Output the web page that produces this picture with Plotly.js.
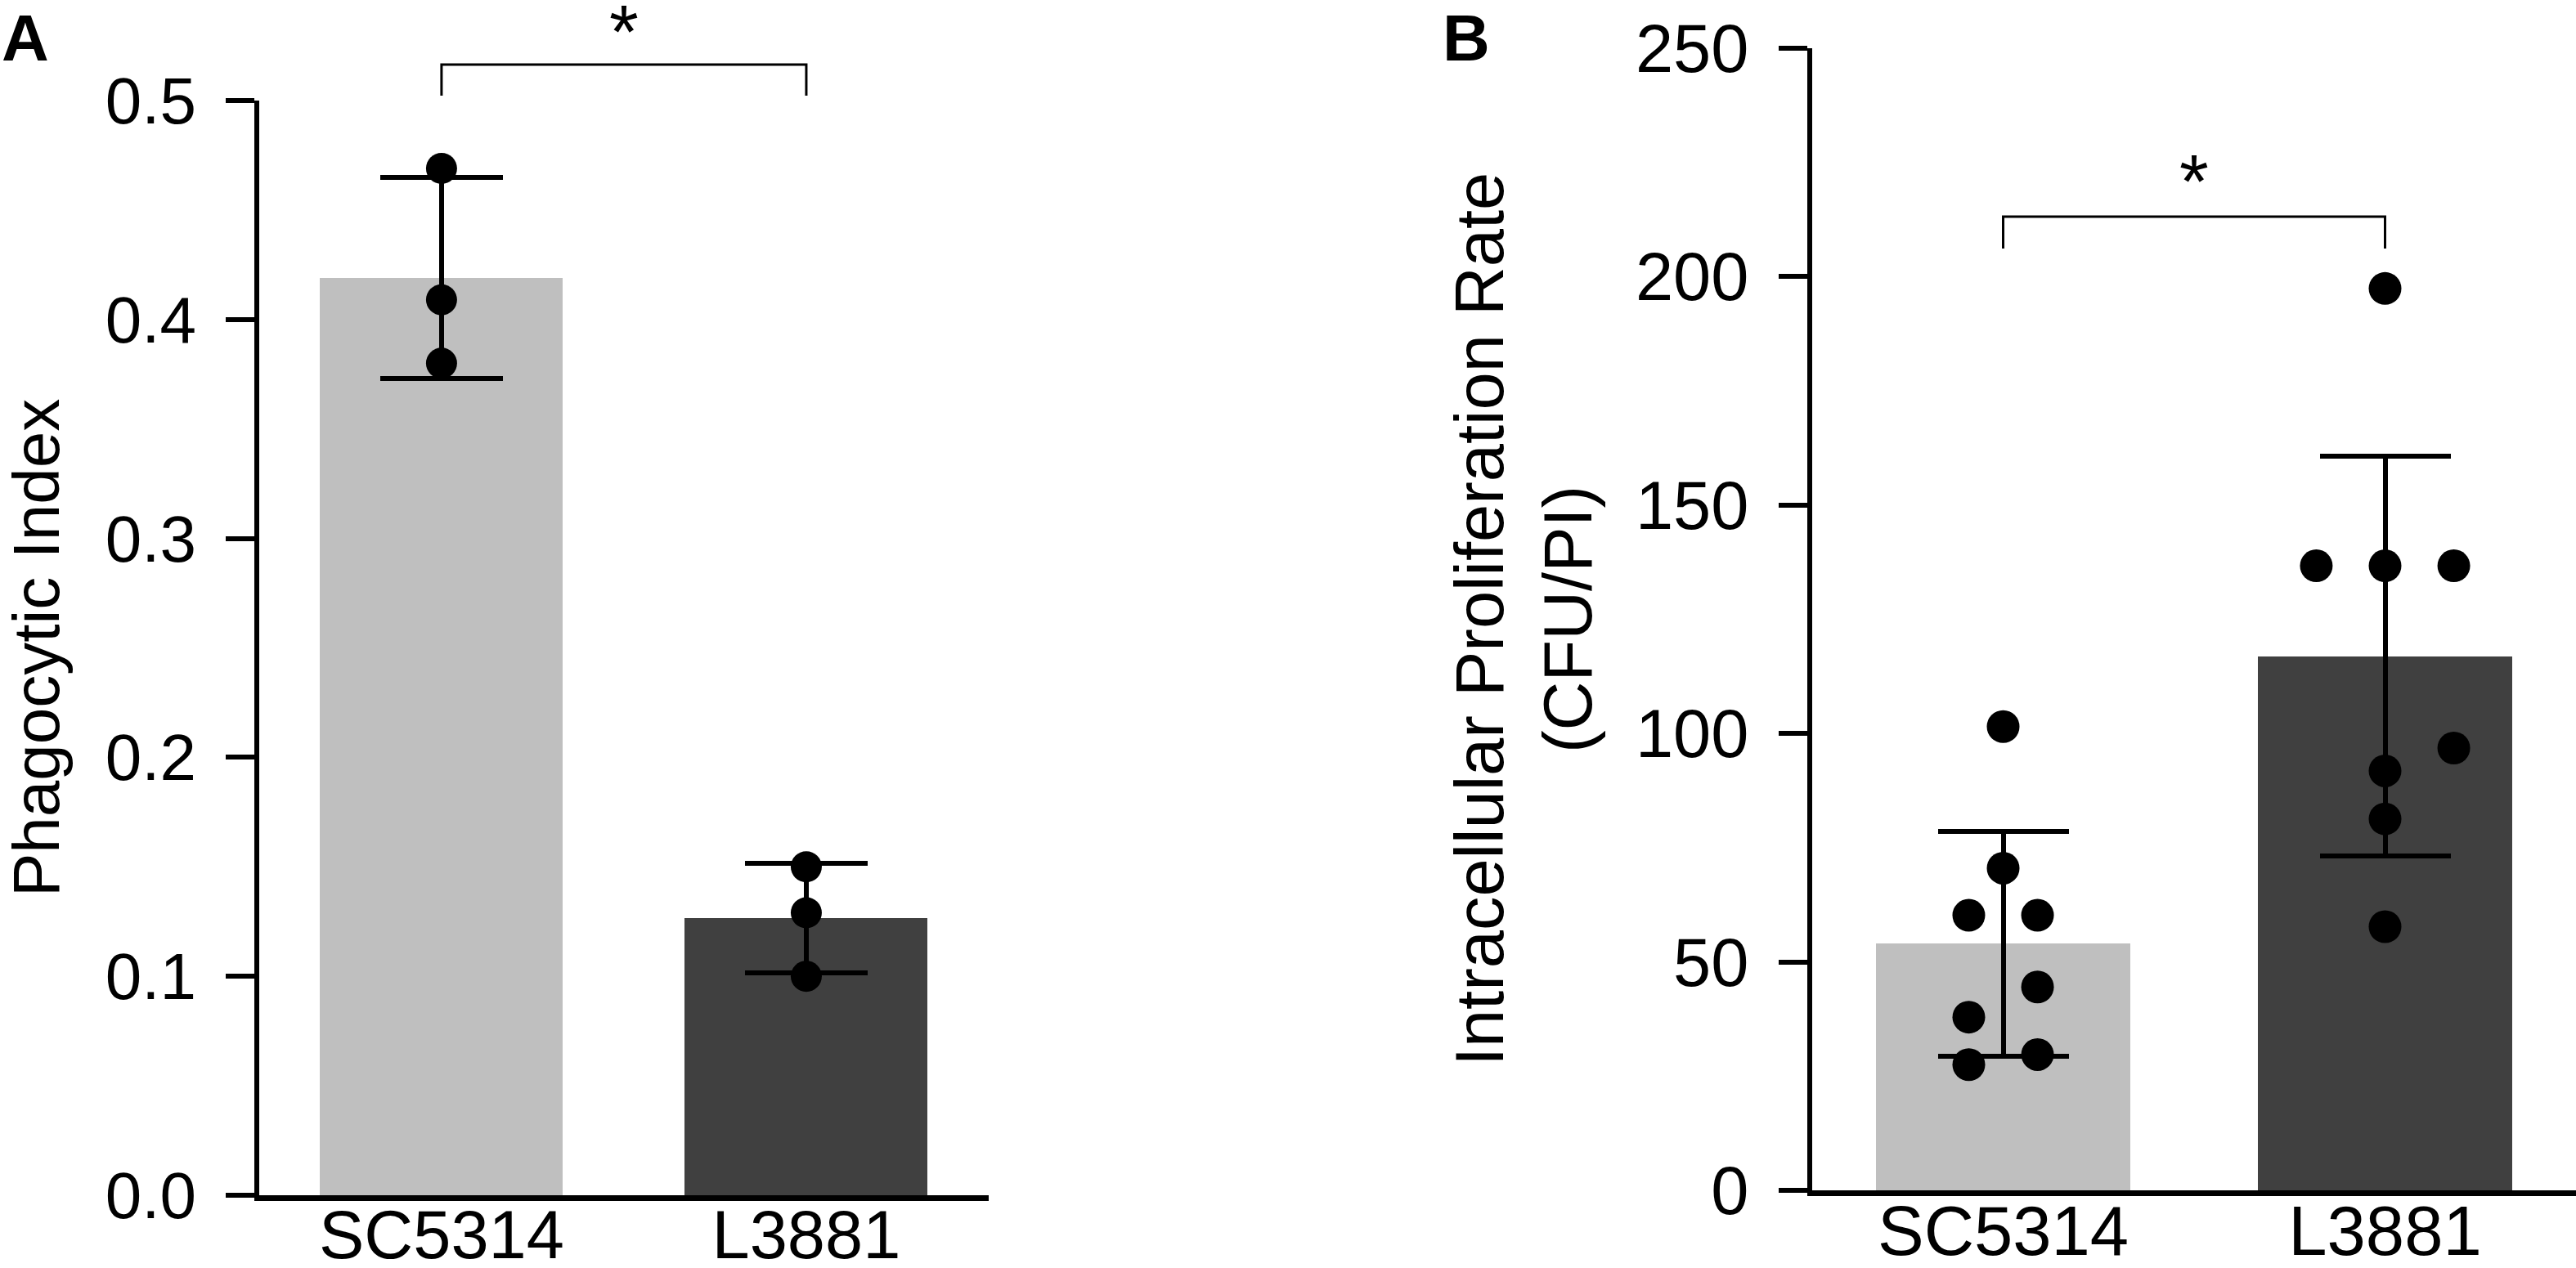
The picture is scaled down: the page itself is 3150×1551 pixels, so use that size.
<!DOCTYPE html>
<html>
<head>
<meta charset="utf-8">
<script src="https://cdn.plot.ly/plotly-3.0.1.min.js"></script>
<style>
body { margin: 0; background: #fff; }
#chart { width: 3150px; height: 1551px; }
</style>
</head>
<body>
<div id="chart"></div>
<script>
var strains = ['SC5314', 'L3881'];
var barColors = ['#bfbfbf', '#404040'];

// A: phagocytic index (mean, SD and the three replicates)
var phagoMean = [0.419, 0.1265];
var phagoSD = [0.046, 0.025];
var phagoSC = [0.469, 0.409, 0.380];
var phagoL = [0.150, 0.129, 0.100];

// B: intracellular proliferation rate (CFU/PI)
var iprMean = [54.0, 116.9];
var iprSD = [24.6, 43.7];
var iprSC = [101.5, 70.5, 60.2, 60.2, 44.5, 37.9, 29.7, 27.5];
var iprL = [197.4, 136.7, 136.7, 136.7, 96.8, 91.8, 81.3, 57.7];
// column of each dot inside its group: -1 left, 0 middle, 1 right
var iprSCcol = [0, 0, -1, 1, 1, -1, 1, -1];
var iprLcol = [0, -1, 0, 1, 1, 0, 0, 0];

var FONT = 'Arial, "Liberation Sans", sans-serif';
var xRange = [-0.5, 1.5];

function catFrac(i) {
    return (i - xRange[0]) / (xRange[1] - xRange[0]);
}

function barTrace(means, sds, xa, ya, capw) {
    return {
	type: 'bar',
	x: [0, 1],
	y: means,
	width: 0.666,
	marker: {color: barColors, line: {width: 0}},
	error_y: {type: 'data', array: sds, visible: true, color: '#000',
		  thickness: 6, width: capw},
	xaxis: xa, yaxis: ya,
	hoverinfo: 'none', showlegend: false
    };
}

function dotTrace(vals, cols, idx, step, xa, ya, size) {
    return {
	type: 'scatter',
	mode: 'markers',
	x: vals.map(function(v, i) { return idx + (cols ? cols[i] : 0) * step; }),
	y: vals,
	marker: {color: '#000', size: size, line: {width: 0}},
	cliponaxis: false,
	xaxis: xa, yaxis: ya,
	hoverinfo: 'none', showlegend: false
    };
}

var data = [
    barTrace(phagoMean, phagoSD, 'x', 'y', 75),
    dotTrace(phagoSC, null, 0, 0, 'x', 'y', 38),
    dotTrace(phagoL, null, 1, 0, 'x', 'y', 38),
    barTrace(iprMean, iprSD, 'x2', 'y2', 80),
    dotTrace(iprSC, iprSCcol, 0, 0.09, 'x2', 'y2', 40),
    dotTrace(iprL, iprLcol, 1, 0.18, 'x2', 'y2', 40)
];

function xAxis(domain, anchor, size) {
    return {
	domain: domain, anchor: anchor, range: xRange,
	tickvals: [0, 1], ticktext: strains,
	ticks: '', showgrid: false, zeroline: false,
	showline: true, linewidth: 7, linecolor: '#000',
	tickfont: {family: FONT, size: size, color: '#000'},
	ticklabelstandoff: -30,
	fixedrange: true
    };
}

function yAxis(domain, anchor, range, dtick, fmt, title, size, standoff) {
    return {
	domain: domain, anchor: anchor, range: range, dtick: dtick,
	tickformat: fmt,
	ticks: 'outside', ticklen: 35, tickwidth: 6, tickcolor: '#000',
	showgrid: false, zeroline: false,
	showline: true, linewidth: 6, linecolor: '#000',
	tickfont: {family: FONT, size: size, color: '#000'},
	ticklabelstandoff: 20,
	title: {text: title, font: {family: FONT, size: size, color: '#000'},
		standoff: standoff},
	fixedrange: true
    };
}

function bracket(xa, ya, y0, y1) {
    var xr = xa + ' domain', yr = ya + ' domain';
    var a = catFrac(0), b = catFrac(1);
    return {
	type: 'path', xref: xr, yref: yr,
	path: 'M' + a + ',' + y1 + ' L' + a + ',' + y0 + ' L' + b + ',' + y0 + ' L' + b + ',' + y1,
	line: {color: '#000', width: 3}
    };
}

function star(xa, ya, y) {
    return {
	xref: xa, yref: ya + ' domain', x: 0.5, y: y,
	text: '*', showarrow: false, yanchor: 'middle',
	font: {family: FONT, size: 92, color: '#000'}
    };
}

function panelLabel(text, x) {
    return {
	xref: 'paper', yref: 'paper', x: x, y: 1.0,
	xanchor: 'left', yanchor: 'top', text: '<b>' + text + '</b>',
	showarrow: false,
	font: {family: FONT, size: 80, color: '#000'}
    };
}

var layout = {
    width: 3150, height: 1551,
    margin: {l: 0, r: 0, t: 0, b: 0},
    paper_bgcolor: '#fff', plot_bgcolor: '#fff',
    showlegend: false,
    bargap: 0,
    font: {family: FONT, color: '#000'},
    xaxis: xAxis([0.1006, 0.3838], 'y', 83),
    yaxis: yAxis([0.0574, 0.9207], 'x', [0, 0.5], 0.1, '.1f', 'Phagocytic Index', 80, 58),
    xaxis2: xAxis([0.7035, 1.0], 'y2', 85),
    yaxis2: yAxis([0.0613, 0.962], 'x2', [0, 250], 50, 'd',
		  'Intracellular Proliferation Rate<br>(CFU/PI)', 83, 28),
    shapes: [
	bracket('x', 'y', 1.0329, 1.0045),
	bracket('x2', 'y2', 0.8525, 0.8246)
    ],
    annotations: [
	star('x', 'y', 1.063),
	star('x2', 'y2', 0.883),
	panelLabel('A', 0.0),
	panelLabel('B', 0.5594)
    ]
};

var config = {displayModeBar: false, staticPlot: true};
Plotly.newPlot('chart', data, layout, config);
</script>
</body>
</html>
